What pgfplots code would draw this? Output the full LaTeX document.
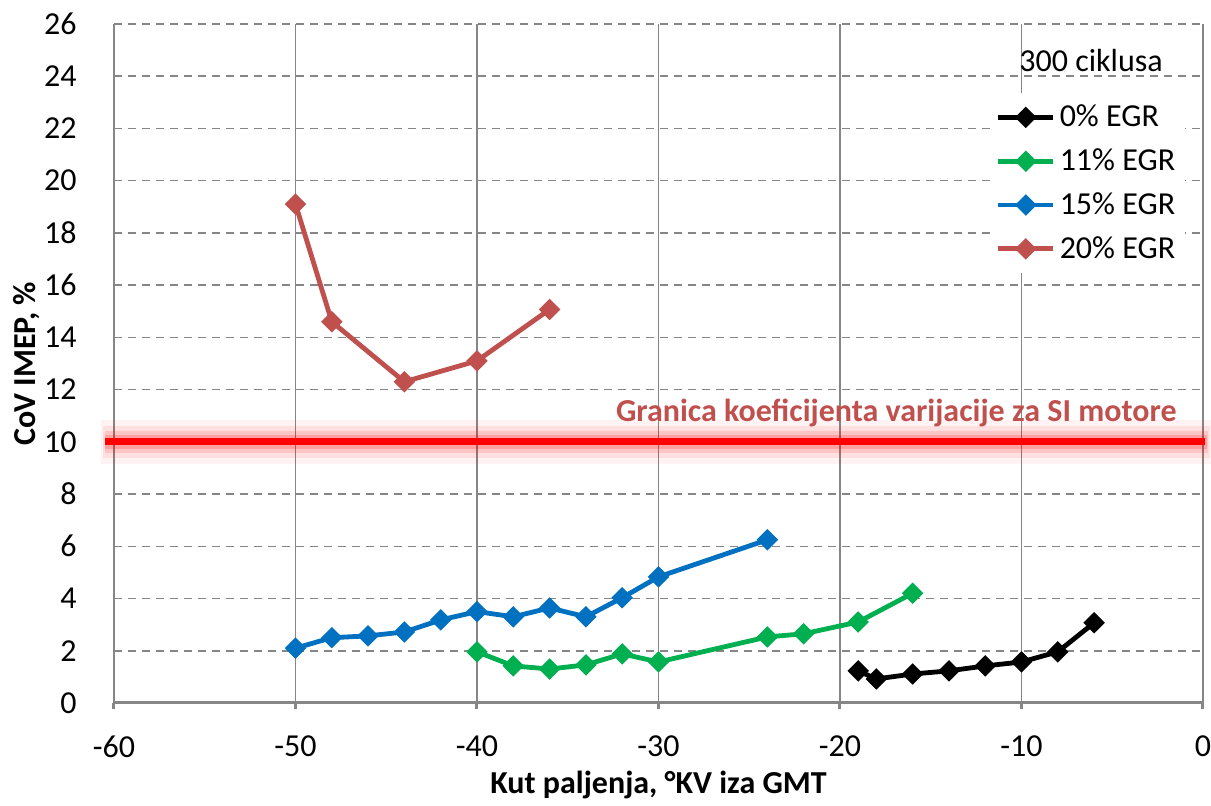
\documentclass[border=0pt]{standalone}
\usepackage{fontspec}
\setmainfont{Carlito}
\usepackage{pgfplots}
\pgfplotsset{compat=1.18}
\definecolor{gridgray}{HTML}{868686}
\definecolor{egrgreen}{HTML}{00B050}
\definecolor{egrblue}{HTML}{0070C0}
\definecolor{egrred}{HTML}{C0504D}
\begin{document}
\begin{tikzpicture}
\useasboundingbox (-57pt,-51.5pt) rectangle (548.5pt,351.5pt);
\begin{axis}[
  at={(0,0)}, anchor=south west,
  scale only axis, width=544.5pt, height=339.5pt,
  xmin=-60, xmax=0, ymin=0, ymax=26,
  xtick={-60,-50,...,0}, ytick={0,2,...,26},
  xticklabels={-60,-50,-40,-30,-20,-10,0},
  yticklabels={0,2,4,6,8,10,12,14,16,18,20,22,24,26},
  axis x line=bottom, axis y line=left,
  axis line style={-, gridgray, line width=0.75pt},
  x axis line style={line width=1.5pt},
  tick align=outside,
  major tick length=3pt,
  xtick style={gridgray, line width=1.5pt},
  ytick style={draw=none},
  xmajorgrids, ymajorgrids,
  major x grid style={gridgray, line width=0.75pt, solid},
  major y grid style={gridgray, line width=0.75pt, dash pattern=on 4pt off 3pt},
  ticklabel style={font=\fontsize{16}{19}\selectfont},
  xticklabel style={anchor=north, inner sep=0pt, yshift=-13pt},
  yticklabel style={anchor=east, inner sep=0pt, xshift=-15.5pt},
  xlabel={Kut paljenja, °KV iza GMT},
  ylabel={CoV IMEP, \%},
  every axis x label/.style={at={(axis description cs:0.5,-0.1208)}, anchor=center, font=\fontsize{16}{19}\selectfont\bfseries},
  every axis y label/.style={at={(axis description cs:-0.0799,0.5)}, rotate=90, anchor=center, font=\fontsize{16}{19}\selectfont\bfseries},
  clip=false,
  legend style={at={(axis description cs:0.804,0.899)}, anchor=north west, fill=white, draw=none,
    font=\fontsize{16}{19}\selectfont, row sep=7.5pt, inner xsep=3pt, inner ysep=5pt,
    nodes={inner xsep=2pt, inner ysep=1pt}},
  legend cell align=left,
  legend image code/.code={\draw[mark repeat=2,mark phase=2,#1] plot coordinates {(0pt,0pt)(13.75pt,0pt)(27.5pt,0pt)};},
  every axis plot/.append style={line width=2.4pt, mark=square*, mark size=2.6pt, mark options={solid, rotate=45}},
]
% limit line with glow
\addplot[forget plot, no marks, line width=22pt, red, opacity=0.05] coordinates {(-60.7,10) (0.5,10)};
\addplot[forget plot, no marks, line width=16pt, red, opacity=0.08] coordinates {(-60.6,10) (0.4,10)};
\addplot[forget plot, no marks, line width=11pt, red, opacity=0.12] coordinates {(-60.5,10) (0.3,10)};
\addplot[forget plot, no marks, line width=7pt, red, opacity=0.18] coordinates {(-60.5,10) (0.2,10)};
\addplot[forget plot, no marks, line width=3.5pt, red] coordinates {(-60.5,10) (0.1,10)};

\addplot[black] coordinates {(-19,1.23) (-18,0.92) (-16,1.11) (-14,1.23) (-12,1.42) (-10,1.57) (-8,1.96) (-6,3.07)};
\addlegendentry{0\% EGR}
\addplot[egrgreen] coordinates {(-40,1.96) (-38,1.42) (-36,1.30) (-34,1.46) (-32,1.88) (-30,1.57) (-24,2.53) (-22,2.65) (-19,3.10) (-16,4.20)};
\addlegendentry{11\% EGR}
\addplot[egrblue] coordinates {(-50,2.10) (-48,2.50) (-46,2.57) (-44,2.72) (-42,3.18) (-40,3.50) (-38,3.30) (-36,3.64) (-34,3.30) (-32,4.03) (-30,4.83) (-24,6.25)};
\addlegendentry{15\% EGR}
\addplot[egrred] coordinates {(-50,19.1) (-48,14.6) (-44,12.3) (-40,13.1) (-36,15.07)};
\addlegendentry{20\% EGR}

\node[font=\fontsize{16}{19}\selectfont] at (axis cs:-6.17,24.62) {300 ciklusa};
\node[anchor=east, inner sep=0pt, text=egrred, font=\fontsize{16}{19}\selectfont\bfseries] at (axis cs:-1.43,11.12) {Granica koeficijenta varijacije za SI motore};
\end{axis}
\end{tikzpicture}
\end{document}
